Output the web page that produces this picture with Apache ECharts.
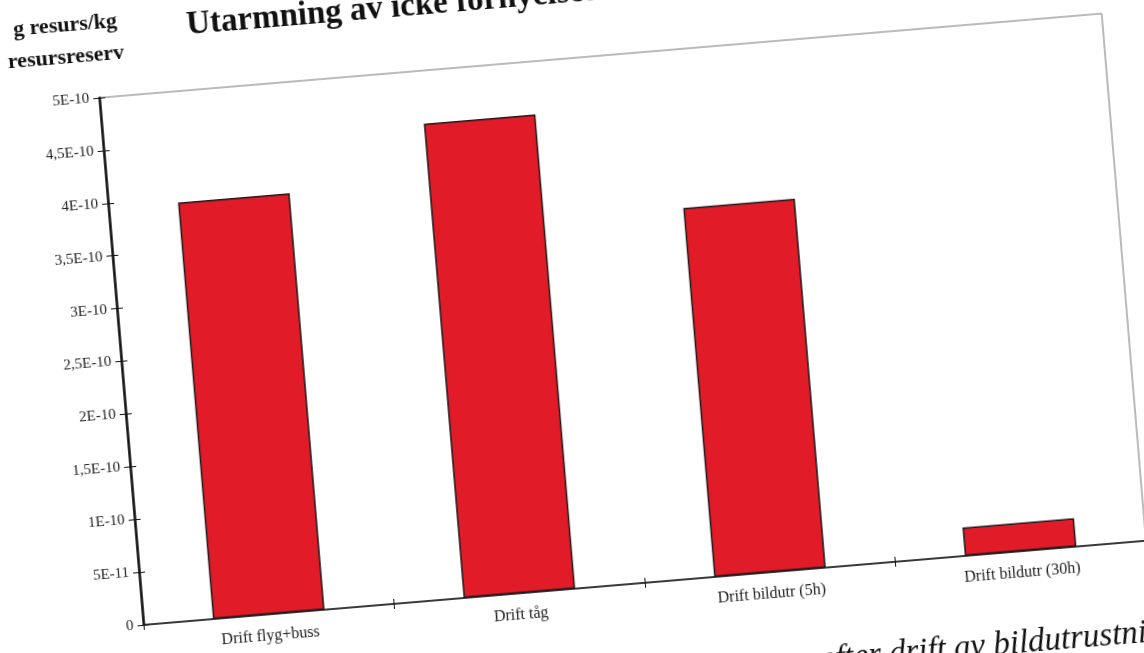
<!DOCTYPE html>
<html>
<head>
<meta charset="utf-8">
<script src="https://cdn.jsdelivr.net/npm/echarts@6/dist/echarts.min.js"></script>
<style>
  html, body { margin: 0; padding: 0; background: #fff; overflow: hidden; width: 1144px; height: 653px; }
  /* the scanned page is tilted, so the chart is drawn straight and rotated */
  #chart {
    position: absolute; left: -40px; top: -60px;
    width: 1224px; height: 773px;
    transform: rotate(-4.8deg);
    transform-origin: 50% 50%;
  }
</style>
</head>
<body>
<div id="chart"></div>
<script>
const categories = ['Drift flyg+buss', 'Drift tåg', 'Drift bildutr (5h)', 'Drift bildutr (30h)'];
const values = [3.95e-10, 4.5e-10, 3.5e-10, 2.7e-11];
const yTickLabels = ['0', '5E-11', '1E-10', '1,5E-10', '2E-10', '2,5E-10', '3E-10', '3,5E-10', '4E-10', '4,5E-10', '5E-10'];
const yStep = 5e-11;

const serif = '"Liberation Serif", "DejaVu Serif", serif';
const chart = echarts.init(document.getElementById('chart'));

const option = {
  backgroundColor: 'transparent',
  animation: false,
  grid: {
    left: 160, top: 119, right: 58, bottom: 125,
    show: true, borderColor: '#777', borderWidth: 1
  },
  graphic: [
    { type: 'text', left: 253, top: 38, style: { text: 'Utarmning av icke förnyelsebara resurser', font: 'bold 33px ' + serif, fill: '#111' } },
    { type: 'text', left: 80, top: 33, style: { text: 'g resurs/kg', font: 'bold 22px ' + serif, fill: '#111' } },
    { type: 'text', left: 72, top: 65, style: { text: 'resursreserv', font: 'bold 22px ' + serif, fill: '#111' } },
    { type: 'text', left: 832, top: 724, style: { text: 'efter drift av bildutrustning', font: 'italic 33px ' + serif, fill: '#111' } }
  ],
  xAxis: [
    {
      type: 'category',
      data: categories,
      axisLine: { lineStyle: { color: '#111', width: 1.5 } },
      axisTick: { show: true, length: 5, lineStyle: { color: '#111' } },
      axisLabel: { color: '#222', fontFamily: serif, fontSize: 16, margin: 14 }
    },
    {
      type: 'category',
      data: categories,
      position: 'bottom',
      axisLine: { show: false },
      axisTick: { show: true, inside: true, length: 5, lineStyle: { color: '#111' } },
      axisLabel: { show: false }
    }
  ],
  yAxis: [
    {
      type: 'value',
      min: 0, max: 5e-10, interval: yStep,
      splitLine: { show: false },
      axisLine: { show: true, lineStyle: { color: '#111', width: 2.5 } },
      axisTick: { show: true, length: 6, lineStyle: { color: '#111' } },
      axisLabel: {
        color: '#222', fontFamily: serif, fontSize: 15, margin: 10,
        formatter: v => yTickLabels[Math.round(v / yStep)]
      }
    },
    {
      type: 'value',
      position: 'left',
      min: 0, max: 5e-10, interval: yStep,
      splitLine: { show: false },
      axisLine: { show: false },
      axisTick: { show: true, inside: true, length: 6, lineStyle: { color: '#111' } },
      axisLabel: { show: false }
    }
  ],
  series: [
    {
      type: 'bar',
      data: values,
      barWidth: 112,
      itemStyle: { color: '#e11b28', borderColor: '#1a1a1a', borderWidth: 1.5 }
    }
  ]
};

chart.setOption(option);
</script>
</body>
</html>
